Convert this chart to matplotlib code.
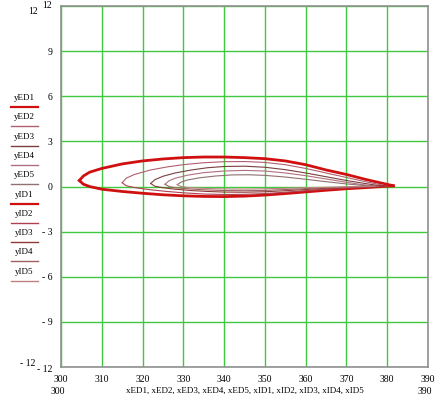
import matplotlib.pyplot as plt
from matplotlib.lines import Line2D

# airfoil sections, leading edge -> trailing edge
xED1 = [304.5, 305.5, 307, 310, 315, 320, 325, 330, 335, 340, 345, 350, 355, 360, 365, 370, 375, 381.5]
yED1 = [0.4, 0.7, 0.95, 1.2, 1.5, 1.7, 1.83, 1.92, 1.96, 1.96, 1.92, 1.85, 1.7, 1.45, 1.1, 0.8, 0.45, 0.05]
xID1 = xED1
yID1 = [0.4, 0.15, 0.0, -0.18, -0.33, -0.45, -0.55, -0.62, -0.66, -0.67, -0.64, -0.57, -0.47, -0.36, -0.25, -0.15, -0.07, 0.05]

xED2 = [315, 316, 318, 322, 326, 330, 335, 340, 345, 350, 355, 360, 365, 370, 375, 380]
yED2 = [0.25, 0.55, 0.8, 1.1, 1.3, 1.45, 1.58, 1.65, 1.66, 1.6, 1.45, 1.2, 0.9, 0.6, 0.3, 0.03]
xID2 = xED2
yID2 = [0.25, 0.05, -0.07, -0.22, -0.33, -0.42, -0.5, -0.53, -0.52, -0.47, -0.38, -0.28, -0.18, -0.1, -0.04, 0.03]

xED3 = [322, 323, 325, 328, 332, 336, 340, 345, 350, 355, 360, 365, 370, 375, 379]
yED3 = [0.2, 0.45, 0.68, 0.9, 1.1, 1.25, 1.33, 1.35, 1.28, 1.12, 0.9, 0.65, 0.4, 0.18, 0.02]
xID3 = xED3
yID3 = [0.2, 0.02, -0.08, -0.18, -0.27, -0.33, -0.37, -0.38, -0.35, -0.28, -0.2, -0.12, -0.06, -0.02, 0.02]

xED4 = [325.5, 326.5, 328, 331, 335, 340, 345, 350, 355, 360, 365, 370, 374, 378]
yED4 = [0.15, 0.38, 0.55, 0.75, 0.92, 1.03, 1.07, 1.03, 0.9, 0.72, 0.5, 0.28, 0.12, 0.02]
xID4 = xED4
yID4 = [0.15, 0.0, -0.08, -0.15, -0.22, -0.27, -0.28, -0.26, -0.2, -0.14, -0.08, -0.04, -0.01, 0.02]

xED5 = [328.5, 329.5, 331, 334, 338, 342, 346, 350, 355, 360, 365, 370, 374, 377]
yED5 = [0.12, 0.3, 0.43, 0.58, 0.7, 0.77, 0.78, 0.74, 0.63, 0.48, 0.32, 0.17, 0.07, 0.02]
xID5 = xED5
yID5 = [0.12, 0.0, -0.06, -0.11, -0.15, -0.17, -0.17, -0.15, -0.12, -0.08, -0.05, -0.02, 0.0, 0.02]

names = ["yED1", "yED2", "yED3", "yED4", "yED5", "yID1", "yID2", "yID3", "yID4", "yID5"]
xs = [xED1, xED2, xED3, xED4, xED5, xID1, xID2, xID3, xID4, xID5]
ys = [yED1, yED2, yED3, yED4, yED5, yID1, yID2, yID3, yID4, yID5]
colors = ["#d01010", "#b06070", "#7a4040", "#b07080", "#907070",
          "#d01010", "#b04050", "#903838", "#a06060", "#c08080"]
widths = [2.0, 0.8, 0.8, 0.8, 0.8, 2.0, 0.8, 0.8, 0.8, 0.8]

xticks = [300, 310, 320, 330, 340, 350, 360, 370, 380, 390]
yticks = [12, 9, 6, 3, 0, -3, -6, -9, -12]

plt.rcParams['font.family'] = 'Liberation Serif'
fig = plt.figure(figsize=(4.39, 3.94), dpi=100)
ax = fig.add_axes([61 / 439, 1 - 367 / 394, 367 / 439, 361 / 394])

for x, y, c, w in zip(xs, ys, colors, widths):
    ax.plot(x, y, color=c, lw=w, solid_joinstyle='round')

ax.set_xlim(300, 390)
ax.set_ylim(-12, 12)
ax.set_xticks(xticks)
ax.set_yticks(yticks)
ax.set_xticklabels([str(t) for t in xticks], fontsize=7)
ax.set_yticklabels(["" if t == 12 or t == -12 else str(t).replace("-", "- ") for t in yticks], fontsize=7)
ax.tick_params(length=0, pad=6)
ax.grid(True, color="#40c840", lw=1)
ax.set_axisbelow(True)
for s in ax.spines.values():
    s.set_color("#909090")
    s.set_linewidth(1.2)

# Mathcad-style axis limit labels
fig.text(52 / 439, 1 - 6 / 394, "12", fontsize=7, ha="right", va="center")
fig.text(38 / 439, 1 - 11 / 394, "12", fontsize=7, ha="right", va="center")
fig.text(52 / 439, 1 - 369 / 394, "- 12", fontsize=7, ha="right", va="center")
fig.text(35 / 439, 1 - 364 / 394, "- 12", fontsize=7, ha="right", va="center")
fig.text(58 / 439, 1 - 391 / 394, "300", fontsize=7, ha="center", va="center")
fig.text(425 / 439, 1 - 391 / 394, "390", fontsize=7, ha="center", va="center")
fig.text(245 / 439, 1 - 391 / 394, ", ".join(n.replace("y", "x") for n in names),
         fontsize=6.5, ha="center", va="center")

# legend on the left, label over line
for i, (n, c, w) in enumerate(zip(names, colors, widths)):
    yy = 1 - (98 + i * 19.3) / 394
    fig.text(24 / 439, yy, n, fontsize=6.5, ha="center", va="center")
    fig.add_artist(Line2D([11 / 439, 38 / 439], [yy - 9 / 394, yy - 9 / 394],
                          color=c, lw=max(w * 0.8, 1.0), transform=fig.transFigure))

fig.savefig("out.png", dpi=100)
